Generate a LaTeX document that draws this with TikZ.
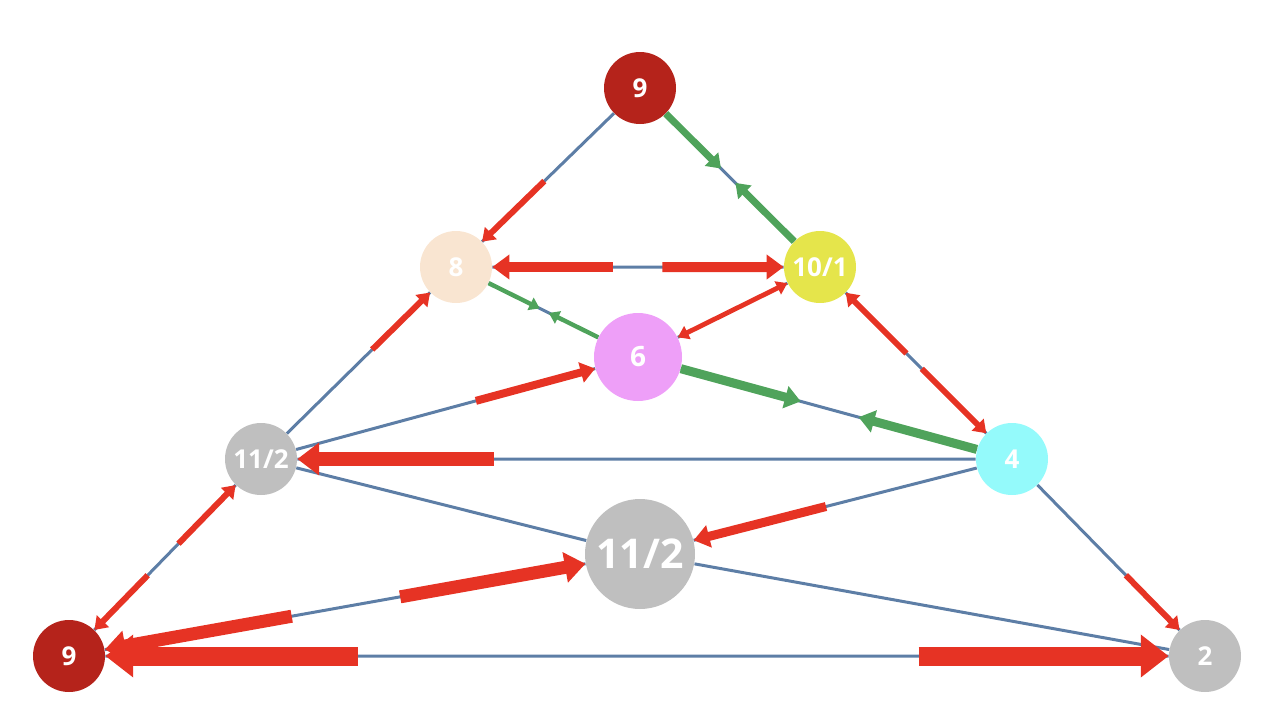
\documentclass[tikz,border=0pt]{standalone}
\usepackage{fontspec}
\setmainfont{Open Sans}
\usetikzlibrary{arrows.meta,calc}
\definecolor{nodered}{HTML}{B5231B}
\definecolor{nodebeige}{HTML}{F9E5D1}
\definecolor{nodeyellow}{HTML}{E5E54B}
\definecolor{nodeviolet}{HTML}{EE9FF8}
\definecolor{nodegray}{HTML}{BFBFBF}
\definecolor{nodecyan}{HTML}{94FAFB}
\definecolor{flowred}{HTML}{E63324}
\definecolor{flowgreen}{HTML}{4FA35B}
\definecolor{linkblue}{HTML}{5D7EA6}
\begin{document}
\begin{tikzpicture}[x=.5pt, y=-.5pt,
  vertex/.style={circle, inner sep=0pt, minimum size=36pt, text=white,
    font=\bfseries\fontsize{13}{15}\selectfont},
  link/.style={draw=linkblue, line width=1.5pt},
  redflow/.style={draw=flowred, line width=#1,
    -{Triangle[width=2.5pt 1.9, length=2.5pt 1.2]}},
  greenflow/.style={draw=flowgreen, line width=#1,
    -{Triangle[width=2.5pt 1.9, length=2.5pt 1.2]}}]
  \useasboundingbox (0,0) rectangle (1270,718);
  \node[vertex, fill=nodered] (T) at (640,88) {9};
  \node[vertex, fill=nodebeige] (A) at (456,267) {8};
  \node[vertex, fill=nodeyellow] (B) at (820,267) {10/1};
  \node[vertex, fill=nodeviolet, minimum size=44pt,
    font=\bfseries\fontsize{14}{16}\selectfont] (C) at (638,357) {6};
  \node[vertex, fill=nodegray] (D) at (261,459) {11/2};
  \node[vertex, fill=nodecyan] (E) at (1012,459) {4};
  \node[vertex, fill=nodegray, minimum size=55pt,
    font=\bfseries\fontsize{20.5}{24}\selectfont] (F) at (640,554) {11/2};
  \node[vertex, fill=nodered] (G) at (69,656) {9};
  \node[vertex, fill=nodegray] (H) at (1205,656) {2};
  % plain links
  \draw[link] (T)--(A) (T)--(B) (A)--(B) (A)--(C) (B)--(C) (A)--(D)
    (D)--(C) (C)--(E) (B)--(E) (D)--(E) (D)--(F) (E)--(F) (G)--(D)
    (G)--(F) (G)--(H) (E)--(H) (F)--(H);
  % green flows
  \draw[greenflow=3.5pt] (T) -- ($(T)!.45!(B)$);
  \draw[greenflow=3.5pt] (B) -- ($(T)!.53!(B)$);
  \draw[greenflow=2.2pt] (A) -- ($(A)!.46!(C)$);
  \draw[greenflow=2.2pt] (C) -- ($(A)!.51!(C)$);
  \draw[greenflow=4.5pt] (C) -- ($(C)!.435!(E)$);
  \draw[greenflow=4.5pt] (E) -- ($(C)!.59!(E)$);
  % red flows
  \draw[redflow=3pt] ($(T)!.52!(A)$) -- (A);
  \draw[redflow=5pt] ($(A)!.43!(B)$) -- (A);
  \draw[redflow=5pt] ($(A)!.567!(B)$) -- (B);
  \draw[redflow=2.4pt] ($(B)!.5!(C)$) -- (B);
  \draw[redflow=2.4pt] ($(B)!.5!(C)$) -- (C);
  \draw[redflow=3pt] ($(D)!.57!(A)$) -- (A);
  \draw[redflow=4pt] ($(D)!.57!(C)$) -- (C);
  \draw[redflow=3pt] ($(B)!.45!(E)$) -- (B);
  \draw[redflow=3pt] ($(B)!.53!(E)$) -- (E);
  \draw[redflow=7pt] ($(E)!.69!(D)$) -- (D);
  \draw[redflow=4.5pt] ($(E)!.5!(F)$) -- (F);
  \draw[redflow=3pt] ($(G)!.57!(D)$) -- (D);
  \draw[redflow=3pt] ($(G)!.41!(D)$) -- (G);
  \draw[redflow=6.5pt] ($(G)!.58!(F)$) -- (F);
  \draw[redflow=6.5pt] ($(G)!.39!(F)$) -- (G);
  \draw[redflow=9.5pt] ($(G)!.254!(H)$) -- (G);
  \draw[redflow=9.5pt] ($(G)!.748!(H)$) -- (H);
  \draw[redflow=3pt] ($(E)!.59!(H)$) -- (H);
\end{tikzpicture}
\end{document}
